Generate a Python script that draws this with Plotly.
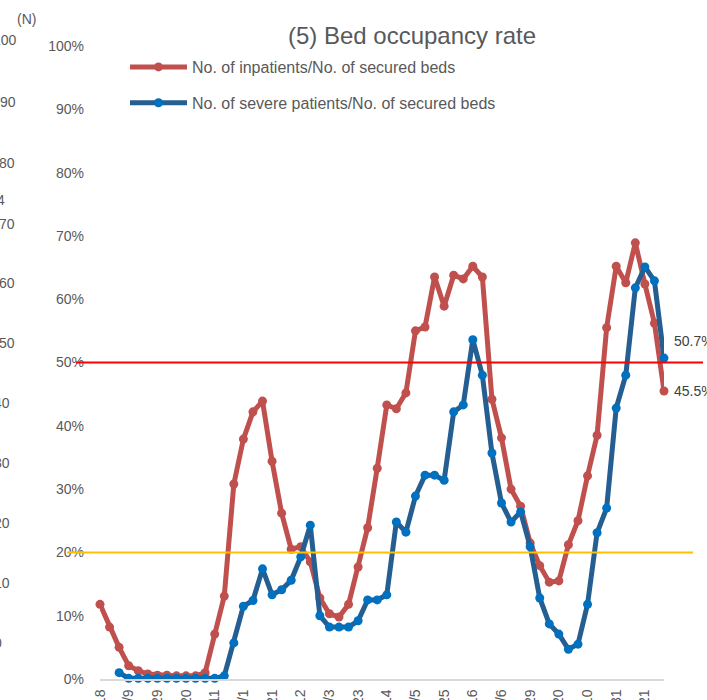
import plotly.graph_objects as go

# ---- data ----
week_index = list(range(60))
tick_positions = list(range(0, 60, 3))
tick_labels = ["8/18", "9/9", "9/29", "10/20", "11/11", "12/1", "12/21", "1/12", "2/3", "2/23",
               "3/14", "4/5", "4/25", "5/16", "6/6", "6/29", "7/20", "8/10", "8/31", "9/21"]

inpatients_rate = [11.8, 8.2, 5.0, 2.1, 1.3, 0.8, 0.6, 0.6, 0.5, 0.5, 0.5, 1.0,
                   7.1, 13.1, 30.8, 37.9, 42.2, 43.9,
                   34.4, 26.2, 20.5, 20.9, 18.5, 12.8,
                   10.3, 9.8, 11.8, 17.7, 23.9, 33.3,
                   43.3, 42.7, 45.2, 55.0, 55.6, 63.5,
                   58.9, 63.8, 63.2, 65.2, 63.5, 44.2,
                   38.1, 30.0, 27.3, 21.5, 17.9, 15.3,
                   15.5, 21.2, 25.0, 32.1, 38.5, 55.5,
                   65.2, 62.6, 68.9, 62.4, 56.2, 45.5]

severe_rate = [None, None, 1.0, 0.1, 0.1, 0.1, 0.1, 0.1, 0.1, 0.1, 0.1, 0.1, 0.1,
               0.5, 5.7, 11.5, 12.4, 17.4,
               13.3, 14.1, 15.6, 19.3, 24.3, 10.0,
               8.2, 8.2, 8.2, 9.2, 12.5, 12.5,
               13.3, 24.8, 23.2, 28.9, 32.2, 32.2,
               31.4, 42.2, 43.3, 53.6, 48.0, 35.7,
               27.8, 24.8, 26.4, 20.9, 12.8, 8.7,
               7.1, 4.7, 5.5, 11.8, 23.1, 27.0,
               42.8, 48.0, 61.8, 65.1, 62.9, 50.7]

y_ticks = list(range(0, 101, 10))
y_tick_labels = [f"{v}%" for v in y_ticks]
threshold_stage4 = 50
threshold_stage3 = 20

# residual labels of the neighbouring chart (cropped at the left edge)
side_labels = ["100", "90", "80", "70", "60", "50", "40", "30", "20", "10", "0"]

W, H = 707, 700
FONT = "Liberation Sans, Arial, sans-serif"
GREY = "#595959"
RED = "#C0504D"
BLUE_LINE = "#255E91"
BLUE_MARK = "#0070C0"

fig = go.Figure()
fig.add_trace(go.Scatter(
    x=week_index, y=inpatients_rate, mode="lines+markers",
    name="No. of inpatients/No. of secured beds",
    line=dict(color=RED, width=5), marker=dict(color=RED, size=9),
    cliponaxis=False, legendgroup="a"))
fig.add_trace(go.Scatter(
    x=week_index, y=severe_rate, mode="lines+markers",
    name="No. of severe patients/No. of secured beds",
    line=dict(color=BLUE_LINE, width=5), marker=dict(color=BLUE_MARK, size=9),
    cliponaxis=False, legendgroup="b"))

x0p, x1p = 100 / W, 664 / W
y0p, y1p = (H - 679) / H, (H - 46) / H

fig.update_layout(
    width=W, height=H, autosize=False,
    margin=dict(l=0, r=0, t=0, b=0),
    paper_bgcolor="white", plot_bgcolor="white",
    font=dict(family=FONT, color=GREY, size=14),
    title=dict(text="(5) Bed occupancy rate", x=412 / W, xanchor="center",
               y=1 - 36 / H, yanchor="middle", yref="container",
               font=dict(size=24, color=GREY, family=FONT)),
    showlegend=True,
    legend=dict(x=125 / W, y=1 - 50 / H, xanchor="left", yanchor="top",
                bgcolor="rgba(0,0,0,0)", font=dict(size=16, color=GREY, family=FONT),
                traceorder="grouped", tracegroupgap=12, itemwidth=57),
    xaxis=dict(domain=[x0p, x1p], range=[0, 59], automargin=False,
               tickvals=tick_positions, ticktext=tick_labels, tickangle=-90,
               showgrid=False, zeroline=False, showline=True,
               linecolor="#D9D9D9", linewidth=1.5, ticks="", ticklabelstandoff=3,
               tickfont=dict(size=14, color=GREY, family=FONT)),
    yaxis=dict(domain=[y0p, y1p], range=[0, 100], automargin=False,
               tickvals=y_ticks, ticktext=y_tick_labels, showgrid=False, zeroline=False,
               showline=False, ticks="", ticklabelstandoff=15,
               tickfont=dict(size=14, color=GREY, family=FONT)),
)

# threshold lines
fig.add_shape(type="line", xref="paper", yref="y", x0=76 / W, x1=703 / W,
              y0=threshold_stage4, y1=threshold_stage4, line=dict(color="#FF0000", width=2))
fig.add_shape(type="line", xref="paper", yref="y", x0=67 / W, x1=693 / W,
              y0=threshold_stage3, y1=threshold_stage3, line=dict(color="#FFC000", width=2))

# end-point data labels
fig.add_annotation(x=week_index[-1], y=severe_rate[-1], text=f"{severe_rate[-1]}%",
                   showarrow=False, xanchor="left", yanchor="middle", xshift=8, yshift=17,
                   font=dict(size=14, color="#404040", family=FONT))
fig.add_annotation(x=week_index[-1], y=inpatients_rate[-1], text=f"{inpatients_rate[-1]}%",
                   showarrow=False, xanchor="left", yanchor="middle", xshift=8, yshift=0,
                   font=dict(size=14, color="#404040", family=FONT))

# cropped residue of neighbouring chart on the left
side_px = [(19, 40), (18, 102), (17, 163), (17, 224), (17, 283), (17, 343),
           (12, 403), (12, 463), (12, 523), (12, 583), (4, 643)]
for lab, (px, py) in zip(side_labels, side_px):
    fig.add_annotation(xref="paper", yref="paper", x=px / W, y=1 - py / H, text=lab,
                       showarrow=False, xanchor="right", yanchor="middle",
                       font=dict(size=14, color=GREY, family=FONT))
fig.add_annotation(xref="paper", yref="paper", x=7 / W, y=1 - 200 / H, text="4",
                   showarrow=False, xanchor="right", yanchor="middle",
                   font=dict(size=14, color=GREY, family=FONT))
fig.add_annotation(xref="paper", yref="paper", x=15 / W, y=1 - 19 / H, text="(N)",
                   showarrow=False, xanchor="left", yanchor="middle",
                   font=dict(size=14, color=GREY, family=FONT))

fig.write_html("out.html", config={"displayModeBar": False},
               post_script="document.body.style.margin='0';document.body.style.overflow='hidden';")
